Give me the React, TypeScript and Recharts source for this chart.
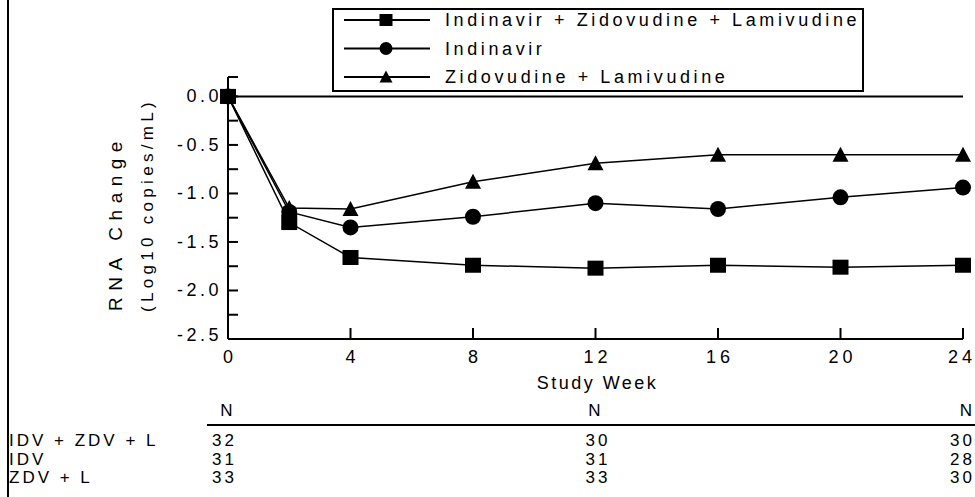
import React from 'react';
import { LineChart, Line, XAxis, YAxis, ReferenceLine, Label } from 'recharts';

const weeks = [0, 2, 4, 8, 12, 16, 20, 24];
const idvZdvL = [0, -1.3, -1.66, -1.74, -1.77, -1.74, -1.76, -1.74];
const idv = [0, -1.19, -1.35, -1.24, -1.1, -1.16, -1.04, -0.94];
const zdvL = [0, -1.15, -1.16, -0.88, -0.69, -0.6, -0.6, -0.6];

const xTicks = [0, 4, 8, 12, 16, 20, 24];
const yTicks = [0.2, 0, -0.25, -0.5, -0.75, -1, -1.25, -1.5, -1.75, -2, -2.25, -2.5];
const yLabelled = [0, -0.5, -1, -1.5, -2, -2.5];

const seriesNames = ['Indinavir + Zidovudine + Lamivudine', 'Indinavir', 'Zidovudine + Lamivudine'];
const tableRows = ['IDV + ZDV + L', 'IDV', 'ZDV + L'];
const nWeek0 = [32, 31, 33];
const nWeek12 = [30, 31, 33];
const nWeek24 = [30, 28, 30];

const data = weeks.map((w, i) => ({ week: w, a: idvZdvL[i], b: idv[i], c: zdvL[i] }));

const FONT = '"Liberation Sans", Arial, sans-serif';

function Marker({ kind, cx, cy, size = 16 }: { kind: string; cx: number; cy: number; size?: number }) {
  const h = size / 2;
  if (kind === 'square') return <rect x={cx - h} y={cy - h + 0.5} width={size} height={size - 1} fill="#000" />;
  if (kind === 'circle') return <circle cx={cx} cy={cy} r={h} fill="#000" />;
  return <polygon points={`${cx},${cy - h} ${cx + h},${cy + h - 1} ${cx - h},${cy + h - 1}`} fill="#000" />;
}

const dotFor = (kind: string) => (props: any) => {
  const { cx, cy, index } = props;
  if (cx == null || cy == null) return <g key={index} />;
  return <Marker key={index} kind={kind} cx={cx} cy={cy} />;
};

function YTick(props: any) {
  const { x, y, payload } = props;
  const v = payload.value;
  const major = yLabelled.includes(v);
  return (
    <g>
      <line x1={x} x2={x + 10} y1={y} y2={y} stroke="#000" strokeWidth={2} />
      {major && (
        <text x={x - 6} y={v === -2.5 ? y + 2 : y + 6} textAnchor="end" fontFamily={FONT} fontSize={18} letterSpacing={3.5} fill="#000">
          {v.toFixed(1)}
        </text>
      )}
    </g>
  );
}

function XTick(props: any) {
  const { x, y, payload } = props;
  return (
    <g>
      {payload.value !== 0 && <line x1={x} x2={x} y1={y} y2={y - 11} stroke="#000" strokeWidth={2} />}
      <text x={payload.value === 24 ? x - 1 : x + 2} y={y + 24} textAnchor="middle" fontFamily={FONT} fontSize={18} letterSpacing={4} fill="#000">
        {payload.value}
      </text>
    </g>
  );
}

function LegendBox() {
  const kinds = ['square', 'circle', 'triangle'];
  return (
    <svg width={532} height={84} style={{ position: 'absolute', left: 332, top: 8 }}>
      <rect x={1} y={1} width={530} height={82} fill="#fff" stroke="#000" strokeWidth={2} />
      {seriesNames.map((n, i) => {
        const y = 12 + i * 28.5;
        return (
          <g key={n}>
            <line x1={12} x2={98} y1={y} y2={y} stroke="#000" strokeWidth={2} />
            <Marker kind={kinds[i]} cx={54} cy={y} size={13} />
            <text x={113} y={y + 6} fontFamily={FONT} fontSize={18} letterSpacing={3.6} fill="#000">
              {n}
            </text>
          </g>
        );
      })}
    </svg>
  );
}

function YLabel() {
  return (
    <g fontFamily={FONT} fill="#000" textAnchor="start">
      <text transform="translate(122, 311) rotate(-90)" fontSize={19} letterSpacing={6.5}>RNA Change</text>
      <text transform="translate(153, 312) rotate(-90)" fontSize={17} letterSpacing={4.3}>(Log10 copies/mL)</text>
    </g>
  );
}

function XLabel(props: any) {
  const { viewBox } = props;
  return (
    <text x={viewBox.x + viewBox.width / 2 + 2} y={viewBox.y + 50} textAnchor="middle" fontFamily={FONT} fontSize={18} letterSpacing={2.5} fill="#000">
      Study Week
    </text>
  );
}

export default function App() {
  return (
    <div style={{ position: 'absolute', left: 0, top: 0, width: 975, height: 497, background: '#fff', overflow: 'hidden' }}>
      <div style={{ position: 'absolute', left: 7, top: 0, width: 2, height: 497, background: '#000' }} />
      <LineChart width={975} height={497} data={data} margin={{ top: 77, right: 12, bottom: 128, left: 168 }}>
        <XAxis
          dataKey="week"
          type="number"
          domain={[0, 24]}
          ticks={xTicks}
          height={30}
          axisLine={{ stroke: '#000', strokeWidth: 2 }}
          tickLine={false}
          tickSize={0}
          tickMargin={0}
          tick={<XTick />}
          interval={0}
        >
          <Label content={<XLabel />} />
        </XAxis>
        <YAxis
          type="number"
          domain={[-2.5, 0.2]}
          ticks={yTicks}
          width={60}
          axisLine={{ stroke: '#000', strokeWidth: 2 }}
          tickLine={false}
          tickSize={0}
          tickMargin={0}
          tick={<YTick />}
          interval={0}
          allowDataOverflow
        >
          <Label content={<YLabel />} />
        </YAxis>
        <ReferenceLine y={0} stroke="#000" strokeWidth={2} />
        <Line dataKey="a" name={seriesNames[0]} stroke="#000" strokeWidth={1.5} dot={dotFor('square')} isAnimationActive={false} />
        <Line dataKey="b" name={seriesNames[1]} stroke="#000" strokeWidth={1.5} dot={dotFor('circle')} isAnimationActive={false} />
        <Line dataKey="c" name={seriesNames[2]} stroke="#000" strokeWidth={1.5} dot={dotFor('triangle')} isAnimationActive={false} />
      </LineChart>
      <LegendBox />
      <svg width={975} height={110} style={{ position: 'absolute', left: 0, top: 392 }}>
        <g fontFamily={FONT} fontSize={17} letterSpacing={3} fill="#000">
          <text x={228} y={24} textAnchor="middle">N</text>
          <text x={596} y={24} textAnchor="middle">N</text>
          <text x={975} y={24} textAnchor="end">N</text>
          <line x1={207} x2={975} y1={33} y2={33} stroke="#000" strokeWidth={2} />
          {tableRows.map((r, i) => (
            <g key={r}>
              <text x={9} y={54 + i * 18.5}>{r}</text>
              <text x={212} y={54 + i * 18.5}>{nWeek0[i]}</text>
              <text x={598} y={54 + i * 18.5} textAnchor="middle">{nWeek12[i]}</text>
              <text x={975} y={54 + i * 18.5} textAnchor="end">{nWeek24[i]}</text>
            </g>
          ))}
        </g>
      </svg>
    </div>
  );
}
